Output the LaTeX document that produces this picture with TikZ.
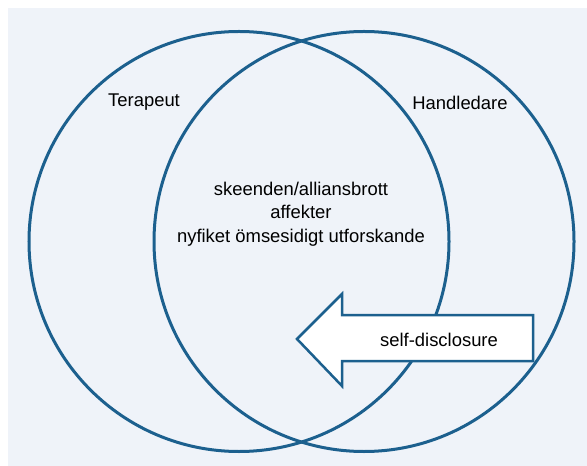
\documentclass[tikz,border=0pt]{standalone}
\usepackage{fontspec}
\setmainfont{Liberation Sans}
\definecolor{vennBlue}{RGB}{28,96,142}
\definecolor{vennBg}{RGB}{239,243,249}
\usetikzlibrary{positioning}

\tikzset{
    ring/.style={draw=vennBlue, line width=3bp, circle, minimum size=420bp, inner sep=0pt},
    rolelabel/.style={font=\fontsize{18.5}{23.5}\selectfont, inner sep=0pt},
    disclosure/.style={draw=vennBlue, line width=2.5bp, fill=white, line join=miter}
}

\begin{document}
\begin{tikzpicture}[x=1bp, y=-1bp]
    \useasboundingbox (0,0) rectangle (587,466);
    % background panel
    \fill[vennBg] (8,8) rectangle (587,466);

    % the two circles
    \node[ring] (terapeut) at (239,241.5) {};
    \node[ring] (handledare) at (364,241.5) {};

    % role labels
    \node[rolelabel] (terLabel) at (144,102) {Terapeut};
    \node[rolelabel] (handLabel) at (460,103) {Handledare};

    % overlap content
    \node[rolelabel, align=center] (overlap) at (301,214) {skeenden/alliansbrott\\affekter\\nyfiket ömsesidigt utforskande};

    % self-disclosure arrow
    \draw[disclosure] (297,339) -- (342,294) -- (342,315) -- (533,315)
        -- (533,361) -- (342,361) -- (342,386) -- cycle;
    \node[rolelabel] (selfDisc) at (439,340) {self-disclosure};
\end{tikzpicture}
\end{document}
